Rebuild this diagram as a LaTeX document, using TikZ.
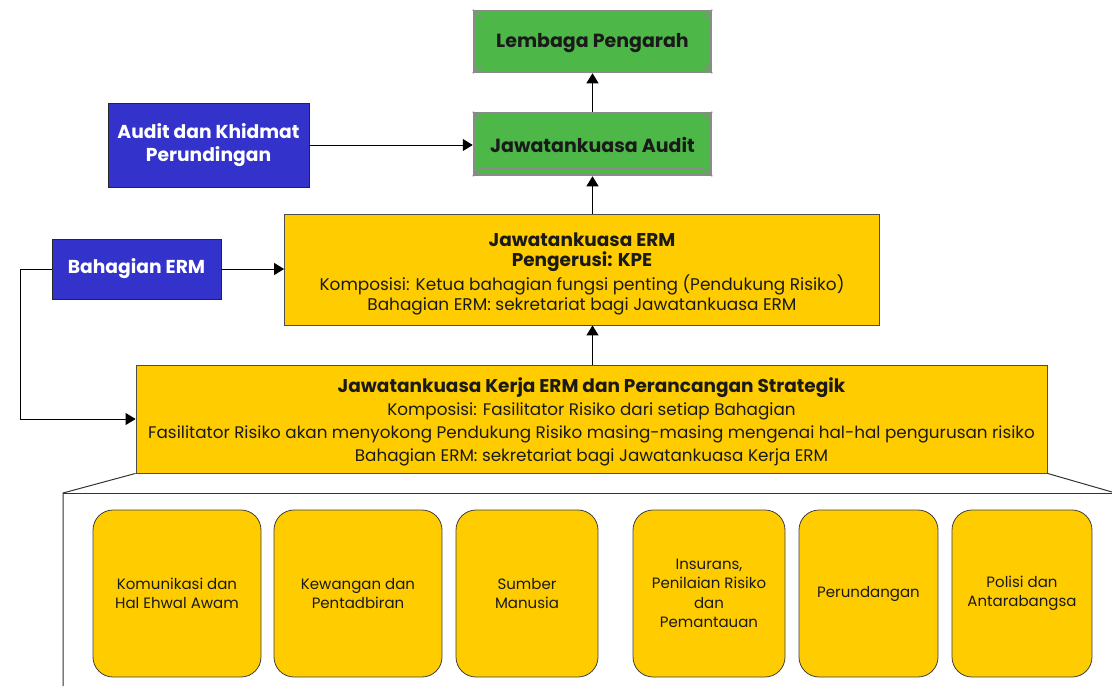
\documentclass[tikz,border=0pt]{standalone}
\usepackage{fontspec}
\setmainfont{Poppins}
\usetikzlibrary{arrows.meta}
\definecolor{ygold}{HTML}{FFCC00}
\definecolor{ggreen}{HTML}{4DB848}
\definecolor{bblue}{HTML}{3333CC}
\definecolor{bgray}{HTML}{8A8A8A}
\definecolor{tdark}{HTML}{1A1A1A}
\newcommand{\bt}{\fontsize{18.5}{20}\selectfont\bfseries}
\begin{document}
\begin{tikzpicture}[x=1pt,y=-1pt,
  arr/.style={draw=black,line width=1pt,-{Triangle[width=12pt,length=10pt]}},
  conn/.style={draw=black!80,line width=1pt},
  greenbox/.style={rectangle,fill=ggreen,draw=bgray,line width=2.5pt,inner sep=0pt,
     font=\fontsize{19}{20}\selectfont\bfseries,text=tdark},
  bluebox/.style={rectangle,fill=bblue,draw=black!85,line width=0.8pt,inner sep=0pt,
     font=\fontsize{18.7}{22.5}\selectfont\bfseries,text=white,align=center},
  yellowbox/.style={rectangle,fill=ygold,draw=black!70,line width=0.8pt,inner sep=0pt,
     text=tdark,align=center},
  unitbox/.style={rectangle,rounded corners=20pt,fill=ygold,draw=black!75,line width=0.8pt,
     inner sep=0pt,text=tdark,align=center,minimum height=167pt,
     font=\fontsize{15}{19.5}\selectfont}
]
\useasboundingbox (0,0) rectangle (1112,686);

% green boxes
\node[greenbox,minimum width=237pt,minimum height=61pt] (lembaga) at (592.5,41.5) {\rule{0pt}{17pt}Lembaga Pengarah};
\node[greenbox,minimum width=237pt,minimum height=62pt] (audit) at (592.5,144) {\rule{0pt}{17pt}Jawatankuasa Audit};
\foreach \b in {lembaga,audit}{
  \draw[bgray,line width=1.2pt] ([shift={(9pt,-8pt)}]\b.north west) rectangle ([shift={(-9pt,8pt)}]\b.south east);
  \draw[bgray,line width=1.2pt] (\b.north west) -- ([shift={(9pt,-8pt)}]\b.north west);
  \draw[bgray,line width=1.2pt] (\b.north east) -- ([shift={(-9pt,-8pt)}]\b.north east);
  \draw[bgray,line width=1.2pt] (\b.south west) -- ([shift={(9pt,8pt)}]\b.south west);
  \draw[bgray,line width=1.2pt] (\b.south east) -- ([shift={(-9pt,8pt)}]\b.south east);
}

% blue boxes
\node[bluebox,minimum width=201pt,minimum height=84pt] (akp) at (208.5,145) {Audit dan Khidmat\\Perundingan};
\node[bluebox,minimum width=169pt,minimum height=60pt] (bah) at (136.5,269) {Bahagian ERM};

% yellow boxes
\node[yellowbox,minimum width=595pt,minimum height=111pt,font=\fontsize{16.9}{20}\selectfont] (erm) at (582,269.5)
 {{\bt\rule{0pt}{22pt}Jawatankuasa ERM}\\
  {\bt Pengerusi: KPE}\\[2pt]
  Komposisi: Ketua bahagian fungsi penting (Pendukung Risiko)\\
  Bahagian ERM: sekretariat bagi Jawatankuasa ERM};
\node[yellowbox,minimum width=911pt,minimum height=108pt,font=\fontsize{16.8}{23}\selectfont] (kerja) at (591.5,419)
 {{\bt\rule{0pt}{21pt}Jawatankuasa Kerja ERM dan Perancangan Strategik}\\
  Komposisi: Fasilitator Risiko dari setiap Bahagian\\
  Fasilitator Risiko akan menyokong Pendukung Risiko masing-masing mengenai hal-hal pengurusan risiko\\
  Bahagian ERM: sekretariat bagi Jawatankuasa Kerja ERM};

% frame below
\coordinate (fl) at (63,493);
\coordinate (fb) at (63,686);
\coordinate (fr) at (1112,493);
\coordinate (frs) at (1112,492);
\draw[conn] (kerja.south west) -- (fl) -- (fb);
\draw[conn] (fl) -- (fr);
\draw[conn] (kerja.south east) -- (frs);

% unit boxes
\node[unitbox,minimum width=168pt] (u1) at (177,593.5) {Komunikasi dan\\Hal Ehwal Awam};
\node[unitbox,minimum width=168pt] (u2) at (358,593.5) {Kewangan dan\\Pentadbiran};
\node[unitbox,minimum width=142pt] (u3) at (527,593.5) {Sumber\\Manusia};
\node[unitbox,minimum width=152pt] (u4) at (709,593.5) {Insurans,\\Penilaian Risiko\\dan\\Pemantauan};
\node[unitbox,minimum width=139pt] (u5) at (868.5,593.5) {Perundangan};
\node[unitbox,minimum width=140pt] (u6) at (1022,593.5) {Polisi dan\\Antarabangsa};

% connectors
\draw[arr] (audit.north) -- (lembaga.south);
\draw[arr] (erm.north -| audit.south) -- (audit.south);
\draw[arr] (kerja.north -| audit.south) -- (erm.south -| audit.south);
\draw[arr] (akp.east) -- (akp.east -| audit.west);
\draw[arr] (bah.east) -- (bah.east -| erm.west);
\coordinate (lc1) at (20,269);
\coordinate (lc2) at (20,419);
\draw[arr] (bah.west) -- (lc1) -- (lc2) -- (kerja.west);
\end{tikzpicture}
\end{document}
